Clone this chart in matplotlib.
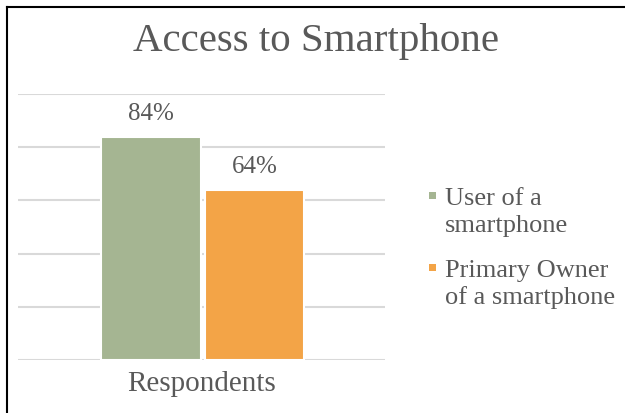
import matplotlib.pyplot as plt
from matplotlib.lines import Line2D
from matplotlib.patches import Rectangle

categories = ["Respondents"]
series_names = ["User of a\nsmartphone", "Primary Owner\nof a smartphone"]
values = [84, 64]
colors = ["#A5B592", "#F3A447"]

plt.rcParams['font.family'] = ['Liberation Serif', 'DejaVu Serif']
text_color = "#595959"

W, H = 625, 414
fig = plt.figure(figsize=(W / 100, H / 100), dpi=100)
ax = fig.add_axes([18/W, 53/H, 367/W, 266/H])

width = 0.272
offsets = [-0.1376, 0.1444]
for name, val, col, off in zip(series_names, values, colors, offsets):
    bars = ax.bar(off, val, width, color=col, edgecolor="white",
                  linewidth=1.5, label=name, zorder=3)
    ax.bar_label(bars, labels=[f"{val}%"], padding=9, fontsize=18,
                 color=text_color)

ax.set_xlim(-0.5, 0.5)
ax.set_ylim(0, 100)
ax.set_yticks(range(0, 101, 20))
ax.yaxis.grid(True, color="#D9D9D9", linewidth=1.5, zorder=0)
ax.tick_params(left=False, labelleft=False, bottom=False)
ax.set_xticks([0])
ax.set_xticklabels(categories, fontsize=21, color=text_color)
ax.tick_params(axis='x', pad=4)
for s in ax.spines.values():
    s.set_visible(False)

fig.text(316/W, 1 - 42/H, "Access to Smartphone", ha='center',
         va='center', fontsize=29.5, color=text_color)

# legend drawn by hand so the swatch sits on the first text line
first_baselines = [205, 277]
line_pitch = 27
for name, col, y0 in zip(series_names, colors, first_baselines):
    fig.add_artist(Rectangle((429/W, 1 - (y0 - 5) / H), 7/W, 7/H,
                             facecolor=col, edgecolor="none",
                             transform=fig.transFigure))
    for i, line in enumerate(name.split("\n")):
        fig.text(445/W, 1 - (y0 + i * line_pitch) / H, line, ha='left',
                 va='baseline', fontsize=19, color=text_color)

# frame edges on top and left
fig.add_artist(Line2D([7/W, 7/W], [0, 1 - 8/H], color="black",
                      linewidth=1.5, transform=fig.transFigure))
fig.add_artist(Line2D([7/W, 1], [1 - 8/H, 1 - 8/H], color="black",
                      linewidth=1.5, transform=fig.transFigure))

fig.savefig("out.png", dpi=100, facecolor="white")
